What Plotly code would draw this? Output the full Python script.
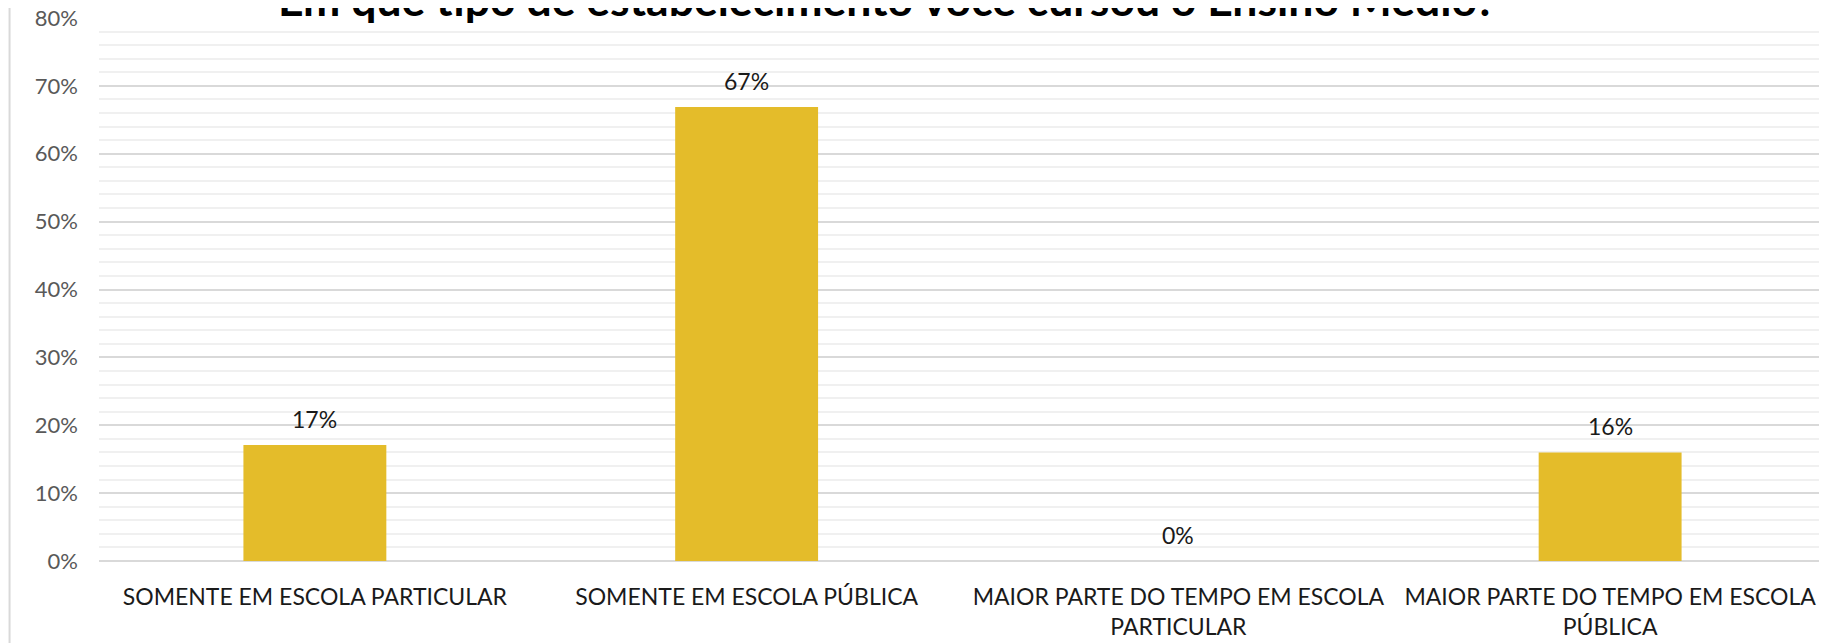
import plotly.graph_objects as go

categories = [
    "SOMENTE EM ESCOLA PARTICULAR",
    "SOMENTE EM ESCOLA PÚBLICA",
    "MAIOR PARTE DO TEMPO EM ESCOLA<br>PARTICULAR",
    "MAIOR PARTE DO TEMPO EM ESCOLA<br>PÚBLICA",
]
values = [0.171, 0.669, 0.0, 0.16]
labels = ["17%", "67%", "0%", "16%"]
title_text = "Em que tipo de estabelecimento você cursou o Ensino Médio?"

# page body has an 8px margin; size the figure to fill the window exactly
OFF = 8
W, H = 1827 - OFF, 643 - OFF
ML, MR, MT, MB = 98.5 - OFF, 0.5, 18 - OFF, 82

fig = go.Figure()
fig.add_trace(go.Bar(
    x=categories, y=values, marker_color="#E4BC2A", width=0.331,
    marker_line_width=0, hoverinfo="skip",
))

for c, v, t in zip(categories, values, labels):
    fig.add_annotation(
        x=c, y=v, text=t, showarrow=False, yanchor="bottom", yshift=10,
        font=dict(family="Lato", size=23, color="#1a1a1a"),
    )

plot_h = H - MT - MB
plot_w = W - ML - MR
fig.add_annotation(
    xref="paper", yref="paper",
    x=(887 - OFF - ML) / plot_w, y=1 - 9 / plot_h,
    xanchor="center", yanchor="bottom", showarrow=False,
    text="<b>" + title_text + "</b>",
    font=dict(family="Lato", size=44.5, color="#000000"),
)

# chart border on the left
fig.add_shape(
    type="line", xref="paper", yref="paper",
    x0=(9 - OFF - ML) / plot_w, x1=(9 - OFF - ML) / plot_w,
    y0=-MB / plot_h, y1=1 + MT / plot_h + 0.05,
    line=dict(color="#d9d9d9", width=2),
)

fig.update_layout(
    width=W, height=H,
    margin=dict(l=ML, r=MR, t=MT, b=MB, autoexpand=False),
    plot_bgcolor="white", paper_bgcolor="white",
    showlegend=False,
    font=dict(family="Lato"),
)
fig.update_xaxes(
    showgrid=False, showline=False, ticks="",
    tickfont=dict(family="Lato", size=23, color="#1a1a1a"),
    ticklabelstandoff=20, tickangle=0,
)
fig.update_yaxes(
    range=[0, 0.8], dtick=0.1, tickformat=".0%",
    showgrid=True, gridcolor="#d9d9d9", gridwidth=2,
    zeroline=True, zerolinecolor="#d9d9d9", zerolinewidth=2,
    minor=dict(dtick=0.02, showgrid=True, gridcolor="#f0f0f0", gridwidth=1.5),
    tickfont=dict(family="Lato", size=22, color="#595959"),
    ticklabelstandoff=20, showline=False, ticks="",
    ticklabeloverflow="allow",
)

fig.write_html("out.html")
